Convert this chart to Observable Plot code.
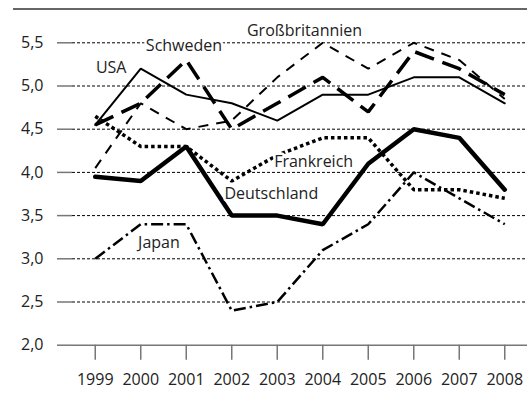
<!DOCTYPE html>
<html><head><meta charset="utf-8">
<script src="https://cdn.jsdelivr.net/npm/d3@7"></script>
<script src="https://cdn.jsdelivr.net/npm/@observablehq/plot@0.6"></script>
<style>
body{margin:0;background:#fff;}
#wrap{position:relative;width:531px;height:401px;}
#wrap svg{display:block;}
#rule{position:absolute;left:13px;top:8px;width:514px;height:0;border-top:2px solid #666;}
</style></head><body>
<div id="wrap"><div id="rule"></div></div>
<script>
const years = [1999, 2000, 2001, 2002, 2003, 2004, 2005, 2006, 2007, 2008];
const deutschland = [3.95, 3.9, 4.3, 3.5, 3.5, 3.4, 4.1, 4.5, 4.4, 3.8];
const frankreich = [4.65, 4.3, 4.3, 3.9, 4.2, 4.4, 4.4, 3.8, 3.8, 3.7];
const usa = [4.55, 5.2, 4.9, 4.8, 4.6, 4.9, 4.9, 5.1, 5.1, 4.8];
const schweden = [4.55, 4.8, 5.3, 4.5, 4.8, 5.1, 4.7, 5.4, 5.2, 4.9];
const grossbritannien = [4.05, 4.8, 4.5, 4.6, 5.1, 5.5, 5.2, 5.5, 5.3, 4.85];
const japan = [3.0, 3.4, 3.4, 2.4, 2.5, 3.1, 3.4, 4.0, 3.7, 3.4];
const yTicks = [2.0, 2.5, 3.0, 3.5, 4.0, 4.5, 5.0, 5.5];

const labelNames = ["Großbritannien", "Schweden", "USA", "Frankreich", "Deutschland", "Japan"];
const labelX = [2003.6, 2000.95, 1999.35, 2003.8, 2002.87, 2000.4];
const labelY = [5.64, 5.46, 5.21, 4.125, 3.75, 3.18];

const series = (vals) => years.map((y, i) => ({year: y, value: vals[i]}));
const labels = labelNames.map((n, i) => ({name: n, x: labelX[i], y: labelY[i]}));

const fmt = v => v.toFixed(1).replace(".", ",");

const chart = Plot.plot({
  width: 531,
  height: 401,
  marginLeft: 72,
  marginRight: 4,
  marginTop: 42.3,
  marginBottom: 56.3,
  style: {fontFamily: "'Open Sans', sans-serif", fontSize: "16px", color: "#222", background: "#fff"},
  x: {type: "linear", domain: [1998.5, 2008.5]},
  y: {domain: [2, 5.5]},
  marks: [
    Plot.ruleY(yTicks.filter(v => v > 2), {stroke: "#000", strokeWidth: 1, strokeDasharray: "3,2"}),
    Plot.ruleY([2], {stroke: "#777", strokeWidth: 1.5}),
    Plot.axisY(yTicks, {tickSize: 15, tickPadding: 14, stroke: "#777", strokeWidth: 1.5, tickFormat: fmt, fill: "#222", fontSize: 16, label: null}),
    Plot.axisX(years, {tickSize: 15, tickPadding: 13, stroke: "#777", strokeWidth: 1.5, tickFormat: d => String(d), fill: "#222", fontSize: 16, label: null}),
    Plot.line(series(japan), {x: "year", y: "value", stroke: "#000", strokeWidth: 2.5, strokeDasharray: "12,4,2.5,4", strokeLinecap: "butt", strokeLinejoin: "miter"}),
    Plot.line(series(grossbritannien), {x: "year", y: "value", stroke: "#000", strokeWidth: 2, strokeDasharray: "10,8", strokeLinecap: "butt", strokeLinejoin: "miter"}),
    Plot.line(series(usa), {x: "year", y: "value", stroke: "#000", strokeWidth: 2, strokeLinejoin: "miter"}),
    Plot.line(series(schweden), {x: "year", y: "value", stroke: "#000", strokeWidth: 3.5, strokeDasharray: "20,9", strokeLinecap: "butt", strokeLinejoin: "miter"}),
    Plot.line(series(frankreich), {x: "year", y: "value", stroke: "#000", strokeWidth: 3.5, strokeDasharray: "3.5,3", strokeLinecap: "butt", strokeLinejoin: "miter"}),
    Plot.line(series(deutschland), {x: "year", y: "value", stroke: "#000", strokeWidth: 4.5, strokeLinejoin: "miter"}),
    Plot.text(labels, {x: "x", y: "y", text: "name", fontSize: 16, fill: "#222", stroke: "white", strokeWidth: 5})
  ]
});
document.getElementById("wrap").appendChild(chart);
</script>
</body></html>
